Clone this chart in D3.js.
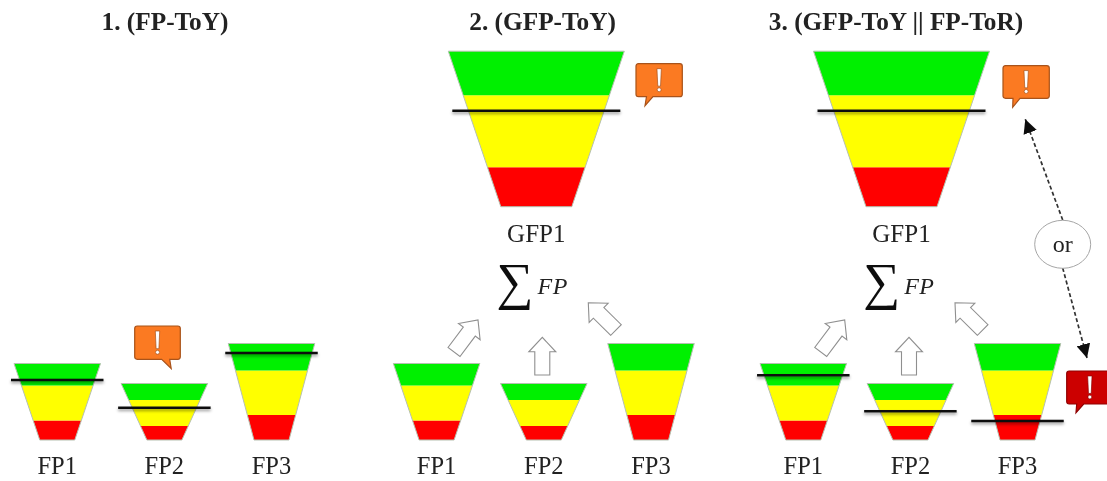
<!DOCTYPE html>
<html>
<head>
<meta charset="utf-8">
<script src="https://cdn.jsdelivr.net/npm/d3@7"></script>
<style>
  html, body { margin: 0; padding: 0; background: #fff; }
  svg { display: block; }
  text { font-family: "Liberation Serif", serif; fill: #222; }
</style>
</head>
<body>
<div id="chart"></div>
<script>
// band heights, bottom to top
var fpNames = [ 'FP1', 'FP2', 'FP3' ];
var fpRed = [ 19.5, 14, 25 ];
var fpYellow = [ 35, 26, 44.5 ];
var fpGreen = [ 22, 16.5, 27 ];
var gfpName = 'GFP1';
var gfpRed = [ 39.5 ];
var gfpYellow = [ 72 ];
var gfpGreen = [ 44 ];

// threshold levels per panel
var panel1Thresholds = [ 60, 32.3, 87 ];
var panel2GfpThreshold = [ 96 ];
var panel3Thresholds = [ 64.7, 28.7, 19 ];
var panel3GfpThreshold = [ 96 ];

var panelTitles = [ '1. (FP-ToY)', '2. (GFP-ToY)', '3. (GFP-ToY || FP-ToR)' ];
var bandColors = { red: '#ff0000', yellow: '#ffff00', green: '#00f000' };

var svg = d3.select( '#chart' ).append( 'svg' )
  .attr( 'width', 1107 )
  .attr( 'height', 481 );

var defs = svg.append( 'defs' );
defs.append( 'filter' ).attr( 'id', 'soft' )
  .attr( 'filterUnits', 'userSpaceOnUse' )
  .attr( 'x', 0 ).attr( 'y', 0 ).attr( 'width', 1107 ).attr( 'height', 481 )
  .append( 'feGaussianBlur' ).attr( 'stdDeviation', 0.6 );
defs.append( 'filter' ).attr( 'id', 'shadow' )
  .attr( 'filterUnits', 'userSpaceOnUse' )
  .attr( 'x', 0 ).attr( 'y', 0 ).attr( 'width', 1107 ).attr( 'height', 481 )
  .append( 'feDropShadow' )
  .attr( 'dx', 0 ).attr( 'dy', 2 ).attr( 'stdDeviation', 1.6 )
  .attr( 'flood-color', '#000' ).attr( 'flood-opacity', 0.4 );
defs.append( 'marker' ).attr( 'id', 'head' )
  .attr( 'viewBox', '0 0 12 12' ).attr( 'refX', 12 ).attr( 'refY', 6 )
  .attr( 'markerWidth', 14 ).attr( 'markerHeight', 14 )
  .attr( 'markerUnits', 'userSpaceOnUse' )
  .attr( 'orient', 'auto-start-reverse' )
  .append( 'path' ).attr( 'd', 'M0,0L12,6L0,12Z' ).attr( 'fill', '#111' );

var root = svg.append( 'g' ).attr( 'filter', 'url(#soft)' );

// 1 unit = 1 px, level 0 is the funnel's narrow end
var yFp = d3.scaleLinear().domain( [ 0, 100 ] ).range( [ 440, 340 ] );
var yGfp = d3.scaleLinear().domain( [ 0, 160 ] ).range( [ 206.7, 46.7 ] );
var bandLine = d3.line();

function rows( reds, yellows, greens ) {
  return reds.map( function ( r, i ) {
    return { red: r, yellow: yellows[ i ], green: greens[ i ] };
  } );
}
var stack = d3.stack().keys( [ 'red', 'yellow', 'green' ] );

function drawFunnels( names, data, thresholds, x, y, bottomW, topW, lineW ) {
  var series = stack( data );
  names.forEach( function ( name, i ) {
    var total = series[ 2 ][ i ][ 1 ];
    var w = d3.scaleLinear().domain( [ 0, total ] ).range( [ bottomW, topW ] );
    var cx = x( name );
    var funnel = root.append( 'g' );

    funnel.selectAll( 'path' )
      .data( series )
      .enter()
      .append( 'path' )
      .attr( 'd', function ( s ) {
        var lo = s[ i ][ 0 ], hi = s[ i ][ 1 ];
        return bandLine( [
          [ cx - w( lo ) / 2, y( lo ) ],
          [ cx - w( hi ) / 2, y( hi ) ],
          [ cx + w( hi ) / 2, y( hi ) ],
          [ cx + w( lo ) / 2, y( lo ) ]
        ] ) + 'Z';
      } )
      .attr( 'fill', function ( s ) { return bandColors[ s.key ]; } );

    funnel.append( 'path' )
      .attr( 'd', bandLine( [
        [ cx - w( 0 ) / 2, y( 0 ) ],
        [ cx - w( total ) / 2, y( total ) ],
        [ cx + w( total ) / 2, y( total ) ],
        [ cx + w( 0 ) / 2, y( 0 ) ]
      ] ) + 'Z' )
      .attr( 'fill', 'none' )
      .attr( 'stroke', '#b5c0b0' )
      .attr( 'stroke-width', 1 );

    if ( thresholds ) {
      root.append( 'line' )
        .attr( 'x1', cx - lineW / 2 )
        .attr( 'x2', cx + lineW / 2 )
        .attr( 'y1', y( thresholds[ i ] ) )
        .attr( 'y2', y( thresholds[ i ] ) )
        .attr( 'stroke', '#111' )
        .attr( 'stroke-width', 2.4 )
        .attr( 'filter', 'url(#shadow)' );
    }
  } );
}

function labels( names, x, baseline, size ) {
  root.selectAll( null )
    .data( names )
    .enter()
    .append( 'text' )
    .attr( 'x', function ( d ) { return x( d ); } )
    .attr( 'y', baseline )
    .attr( 'text-anchor', 'middle' )
    .attr( 'font-size', size )
    .text( function ( d ) { return d; } );
}

// speech bubble with the exclamation mark, tail runs from the box bottom to the tip
function callout( x, y, w, h, tail, fill, edge ) {
  var g = root.append( 'g' ).attr( 'transform', 'translate(' + x + ',' + y + ')' );
  var r = 2.5;
  var d = 'M' + r + ',0H' + ( w - r ) + 'Q' + w + ',0 ' + w + ',' + r +
    'V' + ( h - r ) + 'Q' + w + ',' + h + ' ' + ( w - r ) + ',' + h +
    'H' + tail[ 1 ] + 'L' + tail[ 2 ] + ',' + tail[ 3 ] + 'L' + tail[ 0 ] + ',' + h +
    'H' + r + 'Q0,' + h + ' 0,' + ( h - r ) + 'V' + r + 'Q0,0 ' + r + ',0Z';
  g.append( 'path' ).attr( 'd', d ).attr( 'fill', fill ).attr( 'stroke', edge ).attr( 'stroke-width', 1.2 );
  g.append( 'path' )
    .attr( 'd', 'M' + ( w / 2 - 2.2 ) + ',' + ( h * 0.15 ) + 'H' + ( w / 2 + 2.2 ) +
      'L' + ( w / 2 + 1.4 ) + ',' + ( h * 0.68 ) + 'H' + ( w / 2 - 1.4 ) + 'Z' )
    .attr( 'fill', '#fff' ).attr( 'stroke', edge ).attr( 'stroke-width', 0.7 );
  g.append( 'circle' )
    .attr( 'cx', w / 2 ).attr( 'cy', h * 0.79 ).attr( 'r', 2 )
    .attr( 'fill', '#fff' ).attr( 'stroke', edge ).attr( 'stroke-width', 0.7 );
}

// hollow block arrow from (x1,y1) to the tip (x2,y2)
function blockArrow( x1, y1, x2, y2 ) {
  var len = Math.hypot( x2 - x1, y2 - y1 );
  var angle = Math.atan2( y2 - y1, x2 - x1 ) * 180 / Math.PI;
  var head = len - 14.5;
  root.append( 'path' )
    .attr( 'transform', 'translate(' + x1 + ',' + y1 + ') rotate(' + angle + ')' )
    .attr( 'd', 'M0,-7.5H' + head + 'V-13.5L' + len + ',0L' + head + ',13.5V7.5H0Z' )
    .attr( 'fill', '#fff' )
    .attr( 'stroke', '#8f8f8f' )
    .attr( 'stroke-width', 1.1 );
}

function sumLabel( dx ) {
  root.append( 'text' )
    .attr( 'x', 515 + dx ).attr( 'y', 299 )
    .attr( 'text-anchor', 'middle' )
    .attr( 'font-size', 52 )
    .style( 'fill', '#111' )
    .text( '\u2211' );
  root.append( 'text' )
    .attr( 'x', 537.5 + dx ).attr( 'y', 294 )
    .attr( 'font-size', 24 )
    .attr( 'font-style', 'italic' )
    .attr( 'letter-spacing', 0.5 )
    .text( 'FP' );
}

// panel 1
var x1 = d3.scalePoint().domain( fpNames ).range( [ 57.25, 271.5 ] );
var x2 = d3.scalePoint().domain( fpNames ).range( [ 436.6, 651 ] );
var x3 = d3.scalePoint().domain( fpNames ).range( [ 803.3, 1017.5 ] );
var xG2 = d3.scalePoint().domain( [ gfpName ] ).range( [ 536.3, 536.3 ] );
var xG3 = d3.scalePoint().domain( [ gfpName ] ).range( [ 901.5, 901.5 ] );
var fpData = rows( fpRed, fpYellow, fpGreen );
var gfpData = rows( gfpRed, gfpYellow, gfpGreen );

drawFunnels( fpNames, fpData, panel1Thresholds, x1, yFp, 35, 86.5, 92.5 );
drawFunnels( fpNames, fpData, null, x2, yFp, 35, 86.5, 92.5 );
drawFunnels( fpNames, fpData, panel3Thresholds, x3, yFp, 35, 86.5, 92.5 );
drawFunnels( [ gfpName ], gfpData, panel2GfpThreshold, xG2, yGfp, 71, 176, 168 );
drawFunnels( [ gfpName ], gfpData, panel3GfpThreshold, xG3, yGfp, 71, 176, 168 );

labels( fpNames, x1, 474, 24.5 );
labels( fpNames, x2, 474, 24.5 );
labels( fpNames, x3, 474, 24.5 );
labels( [ gfpName ], xG2, 242, 25 );
labels( [ gfpName ], xG3, 242, 25 );

// titles
root.selectAll( '.title' )
  .data( panelTitles )
  .enter()
  .append( 'text' )
  .attr( 'class', 'title' )
  .attr( 'x', function ( d, i ) { return [ 165, 542.6, 896 ][ i ]; } )
  .attr( 'y', 29.5 )
  .attr( 'text-anchor', 'middle' )
  .attr( 'font-size', 25.3 )
  .attr( 'font-weight', 'bold' )
  .text( function ( d ) { return d; } );

// sums and block arrows
[ 0, 366.7 ].forEach( function ( dx ) {
  sumLabel( dx );
  blockArrow( 454 + dx, 352, 478 + dx, 320 );
  blockArrow( 542.3 + dx, 375, 542.3 + dx, 337.3 );
  blockArrow( 616 + dx, 330, 588.3 + dx, 302.7 );
} );

// callouts
var orange = '#fb7a22', orangeEdge = '#a8521a';
callout( 134.7, 326, 45.6, 33.3, [ 27, 35, 36.5, 42.5 ], orange, orangeEdge );
callout( 636, 63.7, 46.3, 33, [ 10.5, 17, 9, 42 ], orange, orangeEdge );
callout( 1003, 65.7, 46.3, 32.6, [ 10, 17, 9.7, 41.6 ], orange, orangeEdge );
callout( 1066.7, 371, 46.3, 33, [ 10, 17, 9.3, 41.7 ], '#cc0000', '#8f0000' );

// "or" link between the two callouts
var linkUp = [ [ 1062.7, 220 ], [ 1025.3, 119.3 ] ];
var linkDown = [ [ 1062.7, 268 ], [ 1087, 358 ] ];
[ linkUp, linkDown ].forEach( function ( p ) {
  root.append( 'path' )
    .attr( 'd', bandLine( p ) )
    .attr( 'fill', 'none' )
    .attr( 'stroke', '#333' )
    .attr( 'stroke-width', 1.7 )
    .attr( 'stroke-dasharray', '4,2.5' )
    .attr( 'marker-end', 'url(#head)' );
} );
root.append( 'ellipse' )
  .attr( 'cx', 1062.7 ).attr( 'cy', 244.3 )
  .attr( 'rx', 28 ).attr( 'ry', 24 )
  .attr( 'fill', '#fff' )
  .attr( 'stroke', '#a5a5a5' )
  .attr( 'stroke-width', 1 );
root.append( 'text' )
  .attr( 'x', 1062.7 ).attr( 'y', 252 )
  .attr( 'text-anchor', 'middle' )
  .attr( 'font-size', 24 )
  .text( 'or' );
</script>
</body>
</html>
